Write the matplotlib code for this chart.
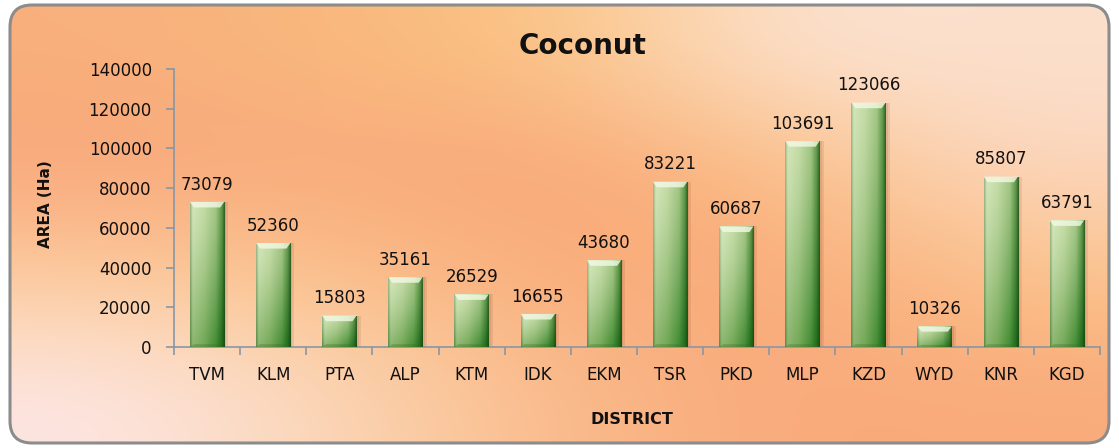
import numpy as np
import matplotlib
matplotlib.use("Agg")
import matplotlib.pyplot as plt
from matplotlib.colors import to_rgb, LinearSegmentedColormap
from matplotlib.patches import FancyBboxPatch, Polygon

# ---- data ----
districts = ["TVM", "KLM", "PTA", "ALP", "KTM", "IDK", "EKM", "TSR",
             "PKD", "MLP", "KZD", "WYD", "KNR", "KGD"]
area_ha = [73079, 52360, 15803, 35161, 26529, 16655, 43680, 83221,
           60687, 103691, 123066, 10326, 85807, 63791]
y_ticks = [0, 20000, 40000, 60000, 80000, 100000, 120000, 140000]
title = "Coconut"
x_label = "DISTRICT"
y_label = "AREA (Ha)"

plt.rcParams['font.family'] = ['DejaVu Sans']

W, H = 1119, 448
fig = plt.figure(figsize=(W / 100, H / 100), dpi=100)

# ---- background gradient with rounded frame ----
bg = fig.add_axes([0, 0, 1, 1], zorder=-10)
bg.set_xlim(0, W)
bg.set_ylim(H, 0)
bg.axis("off")
grid_hex = [
    ["#f8b07c", "#f9b97e", "#fbc583", "#fce3d3", "#fbe0cc"],
    ["#f9a67b", "#f9aa7c", "#f8a479", "#fbbf7e", "#fcd6bf"],
    ["#fcce9e", "#fbc289", "#f9ae7c", "#f9a87a", "#fbc48a"],
    ["#fde6e4", "#fbd6b4", "#fabb8a", "#f9a97b", "#f9ab7b"],
]
grid = np.array([[to_rgb(c) for c in row] for row in grid_hex])
frame = FancyBboxPatch((10, 5), W - 20, H - 10,
                       boxstyle="round,pad=0,rounding_size=22",
                       facecolor="none", edgecolor="#8c8c8c", linewidth=2.2,
                       transform=bg.transData, zorder=5)
bg.add_patch(frame)
im = bg.imshow(grid, extent=(10, W - 10, H - 5, 5), interpolation="bicubic",
               aspect="auto", zorder=1)
im.set_clip_path(frame)

# ---- main axes ----
ax = fig.add_axes([174 / W, (H - 347) / H, (1100 - 174) / W, (347 - 69) / H])
ax.patch.set_alpha(0)
x = np.arange(len(districts))
bw = 0.52

# soft shadows
ax.bar(x + 0.06, area_ha, width=bw, color="#6a3010", alpha=0.10, zorder=1)
ax.bar(x + 0.03, area_ha, width=bw, color="#6a3010", alpha=0.10, zorder=1)
bars = ax.bar(x, area_ha, width=bw, color="#7aa85a", edgecolor="none", zorder=2)

stops = [0.0, 0.07, 0.4, 0.75, 0.92, 1.0]
top_cols = ["#9cb486", "#d2e6b8", "#c4dba6", "#a2c584", "#5d9646", "#2f5f28"]
bot_cols = ["#5a8a45", "#8cb670", "#74a857", "#428c34", "#206b1b", "#174d14"]
cm_top = LinearSegmentedColormap.from_list("t", list(zip(stops, top_cols)))
cm_bot = LinearSegmentedColormap.from_list("b", list(zip(stops, bot_cols)))
u = np.linspace(0, 1, 64)
row_top = cm_top(u)[:, :3]
row_bot = cm_bot(u)[:, :3]
v = np.linspace(0, 1, 80).reshape(-1, 1, 1) ** 1.3  # 0 at top, 1 at bottom
grad_img = row_top[None, :, :] * (1 - v) + row_bot[None, :, :] * v

for b in bars:
    bx, bwid, bh = b.get_x(), b.get_width(), b.get_height()
    img = ax.imshow(grad_img, extent=(bx, bx + bwid, 0, bh),
                    aspect="auto", interpolation="bilinear", zorder=3)
    img.set_clip_path(b)
    d = min(2800, bh * 0.25)
    ins = 0.06
    ax.add_patch(Polygon([(bx, bh), (bx + bwid, bh), (bx + bwid - ins, bh - d),
                          (bx + ins, bh - d)], closed=True,
                         facecolor="#f4fae6", edgecolor="none", alpha=0.8,
                         zorder=4))
    db = min(1400, bh * 0.1)
    ax.add_patch(Polygon([(bx, 0), (bx + bwid, 0), (bx + bwid - ins, db),
                          (bx + ins, db)], closed=True,
                         facecolor="#3d6e2c", edgecolor="none", alpha=0.35,
                         zorder=4))
ax.set_xlim(-0.5, len(districts) - 0.5)
ax.set_ylim(0, 140000)

for b, val in zip(bars, area_ha):
    ax.annotate(f"{val}", (b.get_x() + b.get_width() / 2, val),
                xytext=(0, 6), textcoords="offset points",
                ha="center", va="bottom", fontsize=12, color="#111111")

# axes styling
axis_col = "#8797a6"
for s in ["top", "right"]:
    ax.spines[s].set_visible(False)
for s in ["left", "bottom"]:
    ax.spines[s].set_color(axis_col)
    ax.spines[s].set_linewidth(1.2)
ax.set_yticks(y_ticks)
ax.set_yticklabels([str(t) for t in y_ticks], fontsize=12, color="#111111")
ax.tick_params(axis="y", direction="out", length=6, color=axis_col, width=1.2, pad=10)
ax.set_xticks(x)
ax.set_xticklabels(districts, fontsize=12, color="#111111")
ax.tick_params(axis="x", length=0, pad=14)
ax.set_xticks(np.arange(-0.5, len(districts), 1), minor=True)
ax.tick_params(axis="x", which="minor", direction="out", length=6,
               color=axis_col, width=1.2)

fig.text(583 / W, 1 - 46 / H, title, fontsize=20, fontweight="bold",
         ha="center", va="center", color="#111111")
fig.text(632 / W, 1 - 419 / H, x_label, fontsize=11.5, fontweight="bold",
         ha="center", va="center", color="#111111")
fig.text(45 / W, 1 - 204 / H, y_label, fontsize=11, fontweight="bold",
         ha="center", va="center", rotation=90, color="#111111")

fig.savefig("out.png", dpi=100)
